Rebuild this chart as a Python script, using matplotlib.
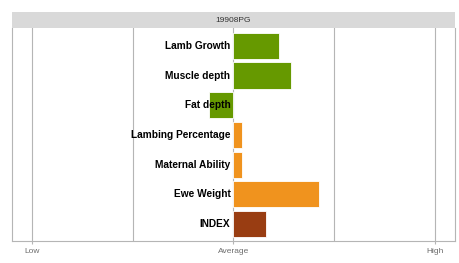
import matplotlib.pyplot as plt
from matplotlib.patches import Rectangle

traits = ["Lamb Growth", "Muscle depth", "Fat depth", "Lambing Percentage",
          "Maternal Ability", "Ewe Weight", "INDEX"]
values = [0.45, 0.57, -0.24, 0.08, 0.08, 0.85, 0.32]
colors = ["#669900", "#669900", "#669900", "#F0931E", "#F0931E", "#F0931E", "#993D12"]
tick_pos = [-2, 0, 2]
tick_labels = ["Low", "Average", "High"]
title = "19908PG"

plt.rcParams['font.family'] = ['Liberation Sans', 'DejaVu Sans']

fig = plt.figure(figsize=(4.6, 2.63), dpi=100)
ax = fig.add_axes([12 / 460, 22 / 263, 443 / 460, 213 / 263])

ypos = list(range(len(traits)))
for x in [-2, -1, 0, 1, 2]:
    ax.axvline(x, color="#B5B5B5", lw=0.8, zorder=0)
ax.barh(ypos, values, height=0.88, color=colors, edgecolor="white", lw=0.6, zorder=2)
for y, t in zip(ypos, traits):
    ax.text(-0.03, y, t, ha="right", va="center", fontsize=7.3, fontweight="bold",
            color="#000000", zorder=3)

ax.set_xlim(-2.2, 2.2)
ax.set_ylim(len(traits) - 0.43, -0.6)
ax.set_yticks([])
ax.set_xticks(tick_pos)
ax.set_xticklabels(tick_labels, fontsize=6, color="#6E6E6E")
ax.tick_params(axis="x", length=2, color="#B5B5B5", pad=3)
for side in ["left", "right", "bottom"]:
    ax.spines[side].set_color("#B5B5B5")
    ax.spines[side].set_linewidth(0.8)
ax.spines["top"].set_visible(False)

# facet strip
strip = fig.add_axes([12 / 460, 235 / 263, 443 / 460, 16 / 263])
strip.add_patch(Rectangle((0, 0), 1, 1, color="#D9D9D9", transform=strip.transAxes))
strip.text(0.5, 0.5, title, ha="center", va="center", fontsize=6, color="#333333")
strip.set_axis_off()

fig.savefig("out.png", dpi=100)
